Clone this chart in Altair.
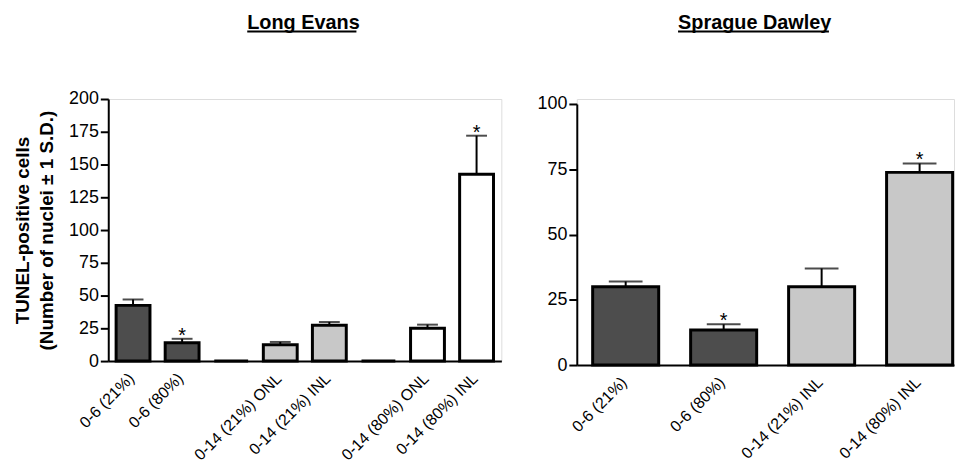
import altair as alt
import pandas as pd

# ---- Long Evans panel data ----
le_keys = ["0-6 (21%)", "0-6 (80%)", "gap1", "0-14 (21%) ONL", "0-14 (21%) INL",
           "gap2", "0-14 (80%) ONL", "0-14 (80%) INL"]
le_mean = [42.5, 14.0, 0, 12.5, 27.3, 0, 25.0, 142.5]
le_upper = [47.0, 17.0, 0, 14.6, 29.8, 0, 27.8, 172.0]
le_fill = ["dark", "dark", "gap", "light", "light", "gap", "white", "white"]
le_star = ["", "*", "", "", "", "", "", "*"]

# ---- Sprague Dawley panel data ----
sd_keys = ["0-6 (21%)", "0-6 (80%)", "0-14 (21%) INL", "0-14 (80%) INL"]
sd_mean = [30.0, 13.4, 30.0, 73.8]
sd_upper = [32.0, 15.6, 37.0, 77.2]
sd_fill = ["dark", "dark", "light", "light"]
sd_star = ["", "*", "", "*"]

y_title = ["TUNEL-positive cells", "(Number of nuclei \u00b1 1 S.D.)"]
FONT = "Liberation Sans"

fill_scale = alt.Scale(domain=["dark", "light", "white", "gap"],
                       range=["#4d4d4d", "#c8c8c8", "#ffffff", "#000000"])


def panel(keys, mean, upper, fill, star, ymax, width, height, yrange, pi, po, align,
          cap, title, tx, ty, tw, ytitle):
    df = pd.DataFrame({"key": keys, "mean": mean, "upper": upper,
                       "fill": fill, "star": star})
    base = alt.Chart(df)
    x = alt.X("key:N", sort=keys,
              scale=alt.Scale(paddingInner=pi, paddingOuter=po, align=align),
              axis=alt.Axis(title=None, labelAngle=315, labelAlign="right",
                            labelBaseline="top", labelPadding=9, labelOffset=-7,
                            labelFontSize=16, labelColor="black",
                            labelFont=FONT, labelLimit=0, ticks=False,
                            labelOverlap=False,
                            domainColor="black", domainWidth=2,
                            labelExpr="indexof(datum.value, 'gap') == 0 ? '' : datum.value"))
    yaxis_kw = dict(values=list(range(0, ymax + 1, 25)), tickSize=8, tickWidth=2,
                    tickColor="black", domainColor="black", domainWidth=2,
                    labelFontSize=18, labelColor="black", labelFont=FONT,
                    labelPadding=2, grid=False, labelOverlap=False)
    if ytitle:
        yaxis_kw.update(title=ytitle, titleFontSize=19, titleFontWeight="bold",
                        titleFont=FONT, titleColor="black", titlePadding=12,
                        titleLineHeight=24)
    else:
        yaxis_kw.update(title=None)
    yaxis = alt.Axis(**yaxis_kw)
    sc_kw = dict(domain=[0, ymax], nice=False)
    if yrange:
        sc_kw["range"] = yrange
    yscale = alt.Scale(**sc_kw)

    def Y(field):
        return alt.Y(field, scale=yscale, axis=yaxis)

    bars = base.mark_bar(stroke="black", strokeWidth=3).encode(
        x=x, y=Y("mean:Q"),
        color=alt.Color("fill:N", scale=fill_scale, legend=None))
    err = base.transform_filter("datum.upper > datum.mean").mark_rule(
        color="black", strokeWidth=2).encode(
        x=x, y=Y("mean:Q"), y2="upper:Q")
    caps = base.transform_filter("datum.upper > datum.mean").mark_tick(
        color="black", thickness=2, size=cap, orient="horizontal").encode(
        x=x, y=Y("upper:Q"))
    stars = base.transform_filter("datum.star != ''").mark_text(
        fontSize=20, font=FONT, color="black", baseline="alphabetic", dy=3).encode(
        x=x, y=Y("upper:Q"), text="star:N")

    tdf = pd.DataFrame({"t": [title]})
    ttext = alt.Chart(tdf).mark_text(
        fontSize=20, fontWeight="bold", font=FONT, color="black",
        align="left", baseline="alphabetic").encode(
        x=alt.value(tx), y=alt.value(ty), text="t:N")
    uline = alt.Chart(tdf).mark_rule(color="black", strokeWidth=2).encode(
        x=alt.value(tx), x2=alt.value(tx + tw), y=alt.value(ty + 3))

    return alt.layer(bars, err, caps, stars, ttext, uline).properties(
        width=width, height=height)


left = panel(le_keys, le_mean, le_upper, le_fill, le_star, 200, 396, 264, None,
             0.31, 0.16, 0.5, 21, "Long Evans", 140, -71, 110, y_title)
right = panel(sd_keys, sd_mean, sd_upper, sd_fill, sd_star, 100, 380, 268, [268, 5],
              0.326, 0.088, 0.92, 34, "Sprague Dawley", 102, -71, 152, None)

chart = alt.hconcat(left, right, spacing=34).properties(
    padding={"left": 5, "top": 2, "right": 0, "bottom": -3},
    background="white"
).configure_view(strokeWidth=0).configure(font=FONT)

chart.save("out.html", embed_options={"renderer": "svg", "actions": False})
